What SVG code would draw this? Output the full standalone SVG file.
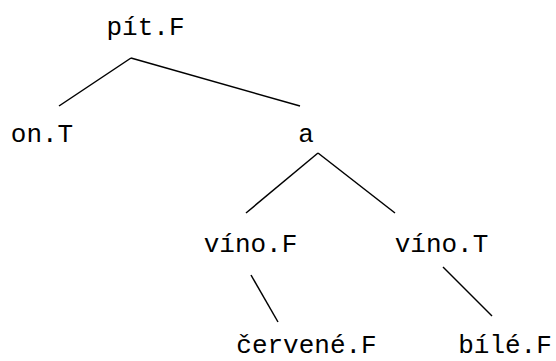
<svg xmlns="http://www.w3.org/2000/svg" width="556" height="361" viewBox="0 0 556 361">
<style>
text{font-family:"Liberation Mono","Courier New",monospace;font-size:26px;fill:#000;text-anchor:middle}
.e line{stroke:#000;stroke-width:1.5}
</style>
<rect width="556" height="361" fill="#fff"/>
<g class="e" id="connectors">
<line x1="131" y1="58" x2="59" y2="106"/>
<line x1="131" y1="58" x2="300" y2="106"/>
<line x1="318" y1="153" x2="246" y2="213"/>
<line x1="318" y1="153" x2="395" y2="213"/>
<line x1="251" y1="275" x2="278" y2="322"/>
<line x1="443" y1="267" x2="492" y2="316"/>
</g>
<g id="pit"><text x="145.5" y="35">pít.F</text></g>
<g id="on"><text x="42" y="142">on.T</text></g>
<g id="a"><text x="306" y="142">a</text></g>
<g id="vinoF"><text x="250.5" y="252">víno.F</text></g>
<g id="vinoT"><text x="441.5" y="252">víno.T</text></g>
<g id="cervene"><text x="306.5" y="353">červené.F</text></g>
<g id="bile"><text x="505" y="353">bílé.F</text></g>
</svg>
